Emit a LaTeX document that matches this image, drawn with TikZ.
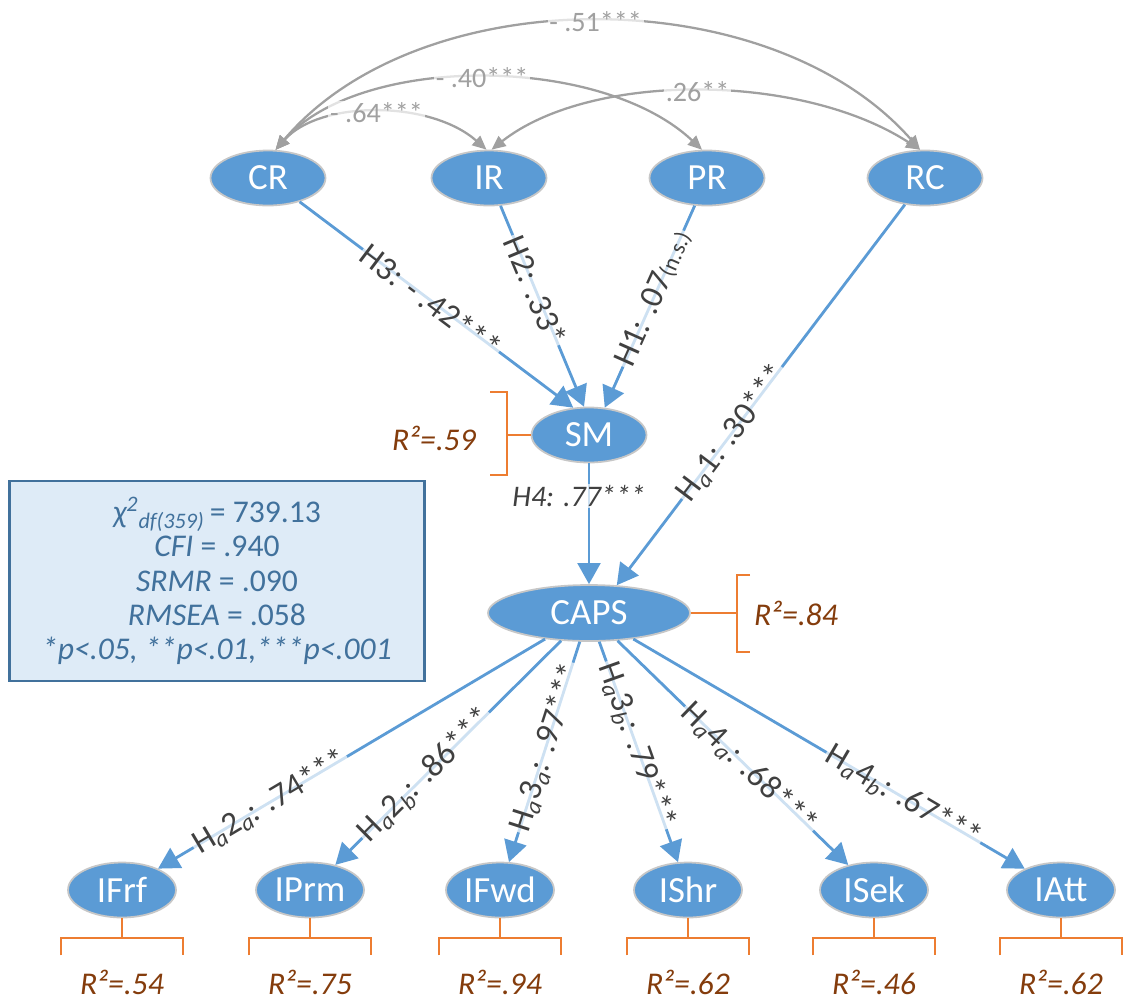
\documentclass[tikz,border=0pt]{standalone}
\usepackage{fontspec}
\setmainfont{Carlito}
\usetikzlibrary{arrows.meta,shapes.geometric}

\definecolor{semblue}{RGB}{91,155,213}
\definecolor{semgray}{RGB}{160,160,160}
\definecolor{labgray}{RGB}{64,64,64}
\definecolor{brorange}{RGB}{237,125,49}
\definecolor{rsqbrown}{RGB}{132,60,12}
\definecolor{boxblue}{RGB}{65,113,156}
\definecolor{boxfill}{RGB}{222,235,247}

\newcommand{\subidx}[1]{\textsubscript{\itshape #1}}
\newcommand{\Hsub}[1]{H\subidx{a}#1}

\begin{document}
\begin{tikzpicture}[x=0.02cm, y=-0.02cm,
    latent/.style={ellipse, fill=semblue, draw=black!22, line width=1pt, text=white,
        font=\fontsize{21}{24}\selectfont, inner sep=0pt, minimum width=2.3cm, minimum height=1.1cm},
    hyp/.style={semblue, line width=1.6pt, -{Triangle[length=12pt,width=13pt]}},
    corr/.style={semgray, line width=1.3pt, {Triangle[length=8pt,width=7pt]}-{Triangle[length=8pt,width=7pt]}},
    lbl/.style={fill=white, fill opacity=0.7, text opacity=1, text=labgray, inner sep=1pt,
        font=\fontsize{19}{21}\selectfont},
    clbl/.style={lbl, text=semgray, font=\fontsize{16}{18}\selectfont},
    rbrack/.style={brorange, line width=1.2pt},
    rsq/.style={text=rsqbrown, font=\fontsize{18}{20}\selectfont\itshape},
    fitbox/.style={draw=boxblue, fill=boxfill, line width=1.3pt, text=boxblue, align=center,
        minimum width=8.3cm, minimum height=4cm, font=\fontsize{18}{19.5}\selectfont}]
    \useasboundingbox (0,0) rectangle (1126,1002);

    % Antecedents
    \node[latent] (CR) at (268,178) {CR};
    \node[latent] (IR) at (489,178) {IR};
    \node[latent] (PR) at (707,178) {PR};
    \node[latent] (RC) at (925,178) {RC};

    % Mediator and outcome
    \node[latent] (SM) at (589,435) {SM};
    \node[latent, minimum width=4.04cm, minimum height=1.12cm] (CAPS) at (589,613) {CAPS};

    % Correlations
    \draw[corr] (CR.75) .. controls (420,-21) and (770,-21) .. (RC.100) node[clbl, pos=0.5] {- .51***};
    \draw[corr] (CR.75) .. controls (360,54) and (600,54) .. (PR.100) node[clbl, pos=0.5] {- .40***};
    \draw[corr] (CR.75) .. controls (320,100) and (430,100) .. (IR.95) node[clbl, pos=0.5] {- .64***};
    \draw[corr] (IR.85) .. controls (590,72) and (800,72) .. (RC.100) node[clbl, pos=0.5] {.26**};

    % Hypothesised paths
    \draw[hyp] (CR) -- node[lbl, sloped, pos=0.48] {H3: - .42***} (SM.120);
    \draw[hyp] (IR) -- node[lbl, sloped, pos=0.42] {H2: .33*} (SM.100);
    \draw[hyp] (PR) -- node[lbl, sloped, pos=0.46] {H1: .07{\fontsize{13}{14}\selectfont(n.s.)}} (SM.60);
    \draw[hyp] (RC) -- node[lbl, sloped, pos=0.6] {\Hsub{1}: .30***} (CAPS.45);
    \draw[hyp] (SM) -- node[lbl, pos=0.27, xshift=-0.2cm, font=\fontsize{17}{19}\selectfont\itshape] {H4: .77***} (CAPS);

    % R-squared brackets
    \draw[rbrack] (SM.west) -- (507,435);
    \draw[rbrack] (490,392) -- (507,392) -- (507,475) -- (490,475);
    \node[rsq, anchor=east] (rSM) at (482,438) {R²=.59};
    \draw[rbrack] (CAPS.east) -- (737,613);
    \draw[rbrack] (750,575) -- (737,575) -- (737,652) -- (750,652);
    \node[rsq, anchor=west] (rCAPS) at (748,613) {R²=.84};

    % Intentions
    \foreach \n/\x/\r in {IFrf/122/.54, IPrm/310/.75, IFwd/500/.94, IShr/688/.62, ISek/874/.46, IAtt/1061/.62} {
        \node[latent, minimum width=2.16cm] (\n) at (\x,890) {\n};
        \draw[rbrack] (\n.south) -- ++(0,20) ++(-61,17) -- ++(0,-17) -- ++(122,0) -- ++(0,17);
        \node[rsq] (r\n) at (\x,982) {R²=\r};
    }
    \foreach \n/\p/\lab in {IFrf/0.71/{\Hsub{2\subidx{a}}: .74***}, IPrm/0.6/{\Hsub{2\subidx{b}}: .86***},
        IFwd/0.48/{\Hsub{3\subidx{a}}: .97***}, IShr/0.47/{\Hsub{3\subidx{b}}: .79***},
        ISek/0.57/{\Hsub{4\subidx{a}}: .68***}, IAtt/0.69/{\Hsub{4\subidx{b}}: .67***}}
        \draw[hyp] (CAPS) -- node[lbl, sloped, pos=\p] {\lab} (\n);

    % Fit indices
    \node[fitbox] (fit) at (217,581) {{\itshape χ\textsuperscript{2}\textsubscript{df(359)}}\,= 739.13\\
        {\itshape CFI} = .940\\
        {\itshape SRMR} = .090\\
        {\itshape RMSEA} = .058\\
        {\itshape *p<.05, **p<.01,***p<.001}};
\end{tikzpicture}
\end{document}
